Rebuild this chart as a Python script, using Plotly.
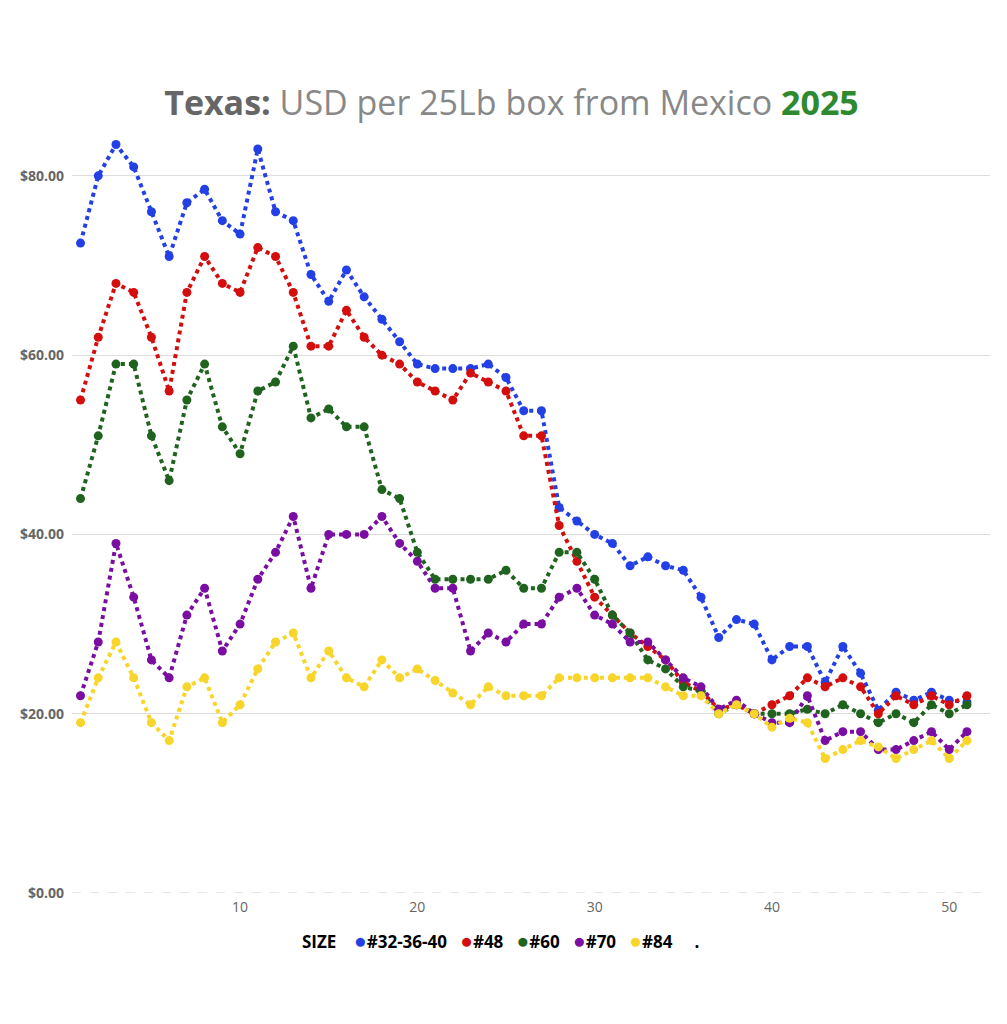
import plotly.graph_objects as go

weeks = list(range(1, 52))

size_32_36_40 = [72.5, 80, 83.5, 81, 76, 71, 77, 78.5, 75, 73.5, 83, 76, 75, 69, 66, 69.5, 66.5, 64, 61.5, 59,
                 58.5, 58.5, 58.5, 59, 57.5, 53.8, 53.8, 43, 41.5, 40, 39, 36.5, 37.5, 36.5, 36, 33, 28.5, 30.5, 30, 26,
                 27.5, 27.5, 23.5, 27.5, 24.5, 20.4, 22.4, 21.5, 22.4, 21.5, 21.3]
size_48 = [55, 62, 68, 67, 62, 56, 67, 71, 68, 67, 72, 71, 67, 61, 61, 65, 62, 60, 59, 57,
           56, 55, 58, 57, 56, 51, 51, 41, 37, 33, 31, 29, 27.5, 26, 23.5, 22.5, 20.5, 21, 20, 21,
           22, 24, 23, 24, 23, 20, 22, 21, 22, 21, 22]
size_60 = [44, 51, 59, 59, 51, 46, 55, 59, 52, 49, 56, 57, 61, 53, 54, 52, 52, 45, 44, 38,
           35, 35, 35, 35, 36, 34, 34, 38, 38, 35, 31, 29, 26, 25, 23, 22.5, 20, 21, 20, 20,
           20, 20.5, 20, 21, 20, 19, 20, 19, 21, 20, 21]
size_70 = [22, 28, 39, 33, 26, 24, 31, 34, 27, 30, 35, 38, 42, 34, 40, 40, 40, 42, 39, 37,
           34, 34, 27, 29, 28, 30, 30, 33, 34, 31, 30, 28, 28, 26, 24, 23, 20.5, 21.5, 20, 19,
           19, 22, 17, 18, 18, 16, 16, 17, 18, 16, 18]
size_84 = [19, 24, 28, 24, 19, 17, 23, 24, 19, 21, 25, 28, 29, 24, 27, 24, 23, 26, 24, 25,
           23.7, 22.3, 21, 23, 22, 22, 22, 24, 24, 24, 24, 24, 24, 23, 22, 22, 20, 21, 20, 18.5,
           19.5, 19, 15, 16, 17, 16.3, 15, 16, 17, 15, 17]

series_names = ["#32-36-40", "#48", "#60", "#70", "#84"]
series_values = [size_32_36_40, size_48, size_60, size_70, size_84]
colors = ["#2340e6", "#d40d0d", "#1f631f", "#7a0ea3", "#f7d52a"]

fig = go.Figure()
for name, vals, col in zip(series_names, series_values, colors):
    fig.add_trace(go.Scatter(
        x=weeks, y=vals, name=name, mode="lines+markers",
        line=dict(color=col, width=4, dash="dot"),
        marker=dict(color=col, size=9),
        cliponaxis=False, showlegend=False,
    ))

# compact legend line (as in the reference): "SIZE ●#32-36-40 ●#48 ... ."
nb = "\u00a0"
parts = ["<b>SIZE</b>" + nb]
for name, col in zip(series_names, colors):
    parts.append(f"<span style='color:{col};font-size:21px'>●</span><b>{name}</b>")
legend_text = (nb * 3).join(parts) + nb * 5 + "<b>.</b>"
fig.add_annotation(
    text=legend_text, xref="paper", yref="paper",
    x=0.4673, y=-0.0624, xanchor="center", yanchor="middle",
    showarrow=False, font=dict(size=17, color="#000000", family="Open Sans"),
)

fig.add_shape(type="line", xref="paper", yref="y", x0=0, x1=1, y0=0, y1=0,
              line=dict(color="#cccccc", width=1, dash="dash"), layer="below")

fig.update_layout(
    width=1007, height=1024,
    paper_bgcolor="white", plot_bgcolor="white",
    margin=dict(l=64, r=25, t=132, b=139),
    font=dict(family="Open Sans", color="#666666"),
    title=dict(
        text="<b><span style='color:#666666'>Texas:</span></b> "
             "<span style='color:#888888'>USD per 25Lb box from Mexico</span> "
             "<b><span style='color:#2e8a2e'>2025</span></b>",
        x=0.5, xref="container", xanchor="center",
        y=0.907, yref="container", yanchor="middle",
        font=dict(size=34, family="Open Sans"),
    ),
    showlegend=False,
)

fig.update_xaxes(
    range=[0.52, 52.3], showgrid=False, zeroline=False, showline=False,
    tickvals=[10, 20, 30, 40, 50], ticks="",
    tickfont=dict(size=14, color="#666666", family="Open Sans"),
    tickprefix="<b>", ticksuffix="</b>",
    ticklabelstandoff=4,
)
fig.update_yaxes(
    range=[0, 84.0], dtick=20, tick0=0, tickformat="$.2f",
    showgrid=True, gridcolor="#dddddd", gridwidth=1, zeroline=False, showline=False,
    ticks="", tickfont=dict(size=14, color="#666666", family="Open Sans"),
    tickprefix="<b>", ticksuffix="</b>",
    ticklabelstandoff=7,
)

fig.write_html("out.html")
